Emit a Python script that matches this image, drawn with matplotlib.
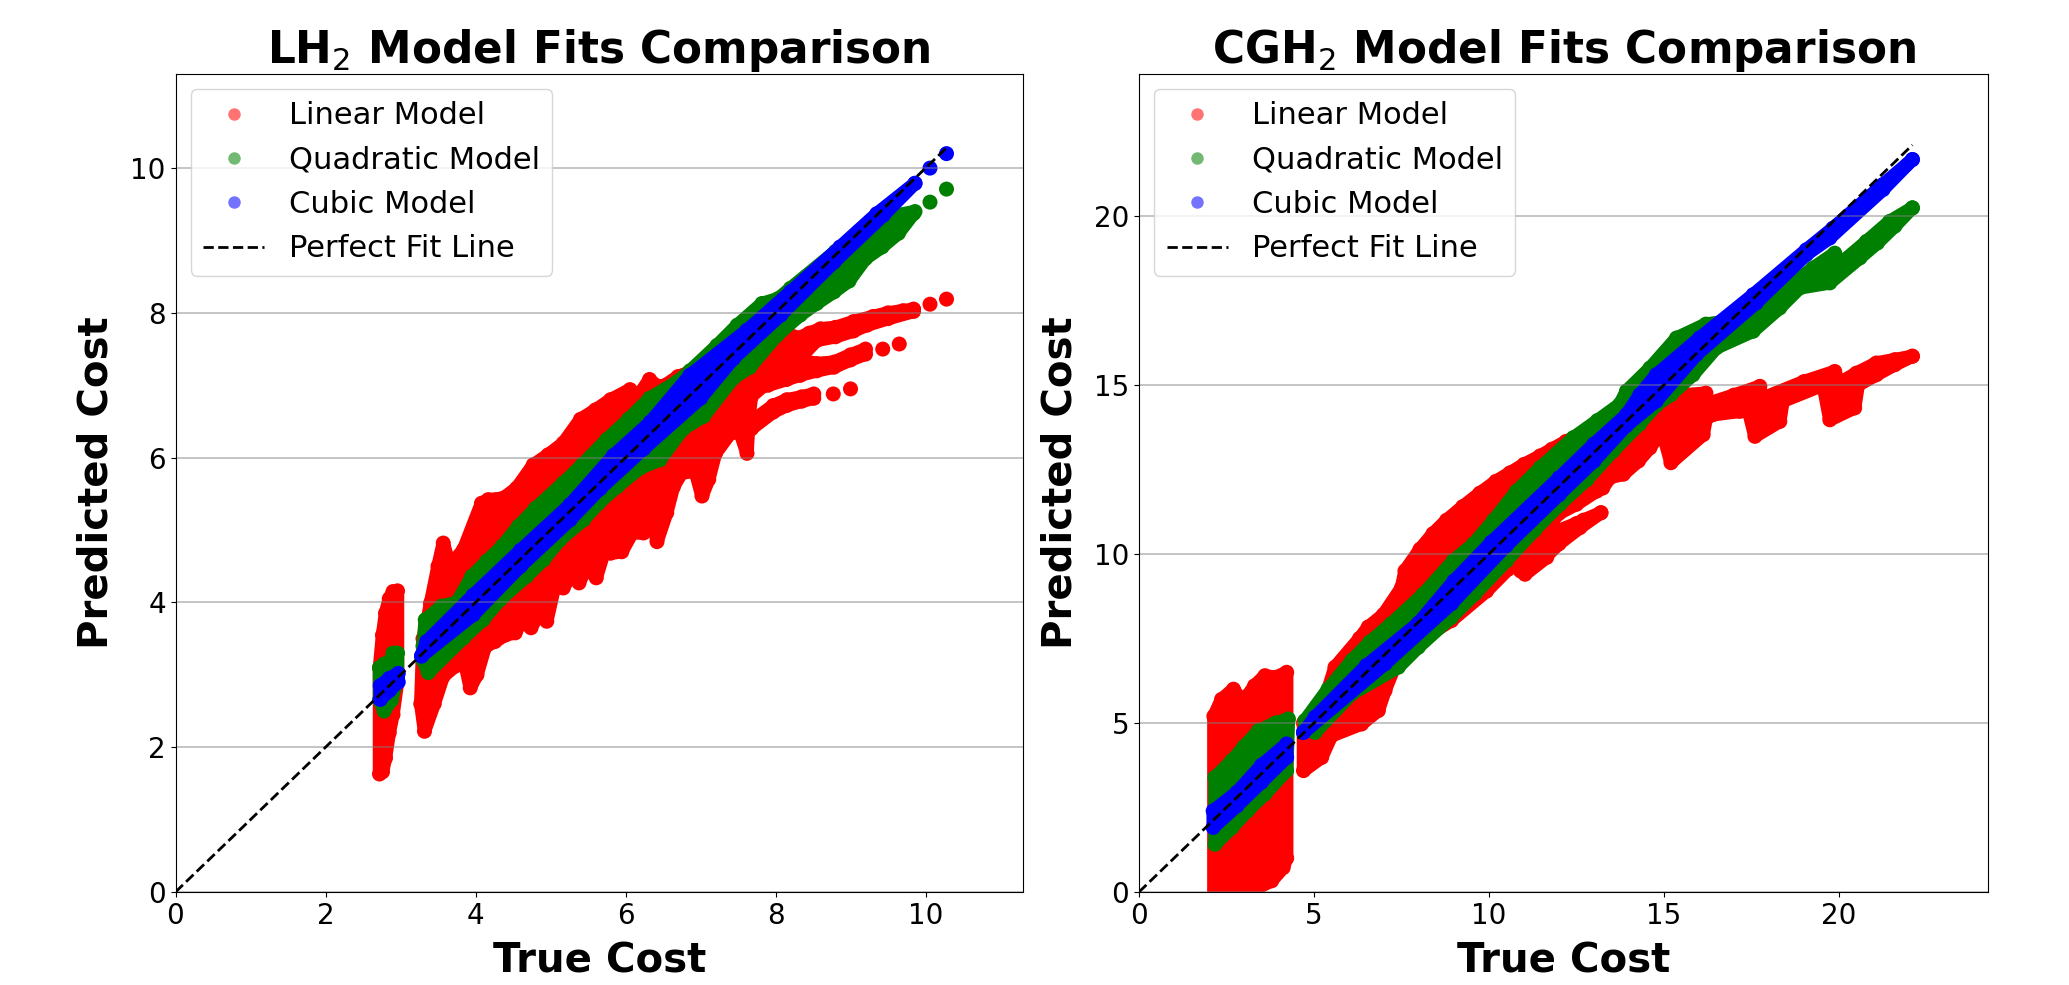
# -*- coding: utf-8 -*-

import numpy as np
import matplotlib
matplotlib.use("Agg")
import matplotlib.pyplot as plt
from matplotlib.lines import Line2D

# ---- LH2 panel : contours des nuages
lh2_red1_top_x = [2.72, 2.76, 2.80, 2.85, 2.90, 2.96]
lh2_red1_top_y = [3.10, 3.55, 3.85, 4.05, 4.15, 4.16]
lh2_red1_low_x = [2.72, 2.76, 2.80, 2.85, 2.90, 2.96]
lh2_red1_low_y = [1.63, 1.66, 1.85, 2.20, 2.45, 2.90]

lh2_red_top_x = [3.30, 3.33, 3.40, 3.50, 3.57, 3.64, 3.71, 3.84, 4.08, 4.17, 4.37, 4.55, 4.77, 4.97, 5.17,
                 5.40, 5.60, 5.80, 6.06, 6.17, 6.32, 6.42, 6.51, 6.70, 6.90, 7.20, 7.50, 7.90, 8.33]
lh2_red_top_y = [3.50, 3.60, 3.99, 4.50, 4.82, 4.57, 4.57, 4.73, 5.37, 5.42, 5.44, 5.58, 5.90, 6.04, 6.20,
                 6.53, 6.66, 6.80, 6.94, 6.85, 7.08, 6.99, 6.99, 7.12, 7.20, 7.40, 7.60, 7.80, 7.65]
lh2_red_low_x = [3.27, 3.32, 3.45, 3.57, 3.73, 3.85, 3.93, 4.02, 4.13, 4.26, 4.40, 4.53, 4.62, 4.74, 4.85,
                 4.95, 5.05, 5.17, 5.29, 5.38, 5.49, 5.61, 5.71, 5.80, 5.95, 6.09, 6.24, 6.33, 6.42, 6.55,
                 6.64, 6.75, 6.93, 7.02, 7.11, 7.20, 7.40, 7.53, 7.62, 7.65, 7.68, 7.85, 8.00, 8.33]
lh2_red_low_y = [2.60, 2.22, 2.60, 2.98, 3.12, 3.20, 2.82, 3.00, 3.39, 3.46, 3.55, 3.58, 3.75, 3.65, 3.85,
                 3.74, 4.20, 4.20, 4.40, 4.27, 4.50, 4.34, 4.68, 4.68, 4.70, 4.96, 4.96, 5.33, 4.84, 5.24,
                 5.60, 5.79, 5.81, 5.47, 5.70, 6.06, 6.34, 6.34, 6.06, 6.60, 6.85, 7.00, 7.10, 7.14]

lh2_branch_top_x = [8.30, 8.45, 8.60, 8.80, 9.04, 9.30, 9.50, 9.70, 9.84]
lh2_branch_top_y = [7.65, 7.72, 7.78, 7.80, 7.88, 7.95, 8.00, 8.03, 8.05]
lh2_branch_low_x = [8.30, 8.55, 8.80, 9.04, 9.22, 9.50, 9.84]
lh2_branch_low_y = [7.35, 7.62, 7.67, 7.75, 7.83, 7.92, 8.02]
lh2_mid_top_x = [7.90, 8.15, 8.33, 8.55, 8.78, 9.00, 9.20]
lh2_mid_top_y = [7.30, 7.33, 7.35, 7.30, 7.32, 7.42, 7.50]
lh2_mid_low_x = [7.90, 8.15, 8.33, 8.55, 8.78, 9.00, 9.20]
lh2_mid_low_y = [7.00, 7.08, 7.14, 7.20, 7.25, 7.35, 7.43]
lh2_low_top_x = [7.68, 7.97, 8.15, 8.35, 8.51]
lh2_low_top_y = [6.50, 6.72, 6.80, 6.84, 6.88]
lh2_low_low_x = [7.68, 7.97, 8.15, 8.35, 8.51]
lh2_low_low_y = [6.40, 6.63, 6.72, 6.78, 6.82]
lh2_red_pts_x = [9.84, 10.06, 10.28, 9.43, 9.65, 8.77, 9.00]
lh2_red_pts_y = [8.05, 8.12, 8.19, 7.50, 7.57, 6.88, 6.95]

lh2_green1_top_x = [2.72, 2.78, 2.85, 2.90, 2.96]
lh2_green1_top_y = [3.10, 3.15, 3.15, 3.30, 3.30]
lh2_green1_low_x = [2.72, 2.78, 2.88, 2.96]
lh2_green1_low_y = [2.65, 2.50, 2.65, 2.95]
lh2_green_top_x = [3.30, 3.33, 3.55, 3.75, 3.95, 4.15, 4.35, 4.57, 4.80, 5.17, 5.42, 5.75, 6.04, 6.32, 6.69, 6.86,
                   7.22, 7.49, 7.82, 8.04, 8.20, 8.80, 9.35, 9.86]
lh2_green_top_y = [3.40, 3.76, 3.95, 4.00, 4.36, 4.57, 4.77, 5.05, 5.30, 5.65, 5.90, 6.25, 6.53, 6.82, 7.05, 7.20,
                   7.55, 7.83, 8.13, 8.20, 8.34, 8.85, 9.30, 9.40]
lh2_green_low_x = [3.30, 3.37, 3.84, 4.10, 4.33, 4.68, 4.91, 5.13, 5.44, 5.64, 5.89, 6.20, 6.46, 6.77, 7.04, 7.44, 7.66,
                   8.02, 8.33, 8.55, 8.78, 8.98, 9.20, 9.42, 9.64, 9.84]
lh2_green_low_y = [3.20, 3.03, 3.51, 3.76, 4.04, 4.36, 4.59, 4.87, 5.14, 5.37, 5.60, 5.86, 5.97, 6.40, 6.57, 7.10, 7.25,
                   7.69, 7.97, 8.13, 8.29, 8.44, 8.75, 8.91, 9.10, 9.37]
lh2_green_pts_x = [10.06, 10.28]
lh2_green_pts_y = [9.53, 9.71]

lh2_blue1_top_x = [2.73, 2.85, 2.97]
lh2_blue1_top_y = [2.85, 2.95, 3.02]
lh2_blue1_low_x = [2.73, 2.85, 2.97]
lh2_blue1_low_y = [2.66, 2.78, 2.90]
lh2_blue_top_x = [3.28, 3.35, 3.97, 4.60, 5.26, 5.84, 6.33, 6.86, 7.62, 8.20, 8.86, 9.35, 9.86]
lh2_blue_top_y = [3.26, 3.46, 4.10, 4.72, 5.35, 6.03, 6.49, 7.14, 7.76, 8.29, 8.91, 9.37, 9.79]
lh2_blue_low_x = [3.28, 3.97, 4.60, 5.26, 5.66, 6.24, 7.00, 7.44, 8.07, 8.78, 9.44, 9.86]
lh2_blue_low_y = [3.26, 3.83, 4.50, 5.14, 5.57, 6.12, 6.82, 7.37, 7.97, 8.70, 9.35, 9.79]
lh2_blue_pts_x = [10.06, 10.28]
lh2_blue_pts_y = [10.00, 10.20]

lh2_line = [0, 10.3]

# ---- CGH2 panel
cgh2_red1_top_x = [2.14, 2.36, 2.70, 2.93, 3.10, 3.30, 3.60, 3.90, 4.22]
cgh2_red1_top_y = [5.20, 5.70, 6.00, 5.66, 5.80, 6.10, 6.40, 6.35, 6.50]
cgh2_red1_low_x = [2.14, 3.00, 3.30, 3.79, 4.12, 4.22]
cgh2_red1_low_y = [-0.50, -0.30, 0.08, 0.33, 0.72, 1.00]

cgh2_red_top_x = [4.70, 5.00, 5.36, 5.60, 6.30, 6.55, 6.98, 7.50, 7.60, 8.03, 8.40, 8.79, 9.25, 9.74, 10.20, 10.60, 11.00,
                  11.46, 11.80, 12.20, 14.00, 14.88, 15.50, 16.20, 16.25, 17.00, 17.74, 17.80, 19.00, 19.88, 20.00, 20.50, 21.07, 21.60, 22.10]
cgh2_red_top_y = [5.00, 5.20, 5.86, 6.65, 7.50, 7.84, 8.20, 9.00, 9.50, 10.14, 10.60, 11.00, 11.40, 11.80, 12.15, 12.40, 12.65,
                  12.90, 13.10, 13.33, 14.20, 14.60, 14.70, 14.76, 14.45, 14.70, 14.96, 14.60, 15.10, 15.40, 15.05, 15.35, 15.65, 15.75, 15.85]
cgh2_red_low_x = [4.70, 5.22, 5.50, 6.36, 6.84, 7.03, 7.30, 8.17, 8.93, 9.93, 10.55, 10.60, 10.78, 10.90, 11.03,
                  11.65, 11.60, 11.75, 12.00, 12.50, 13.08, 13.25, 13.46, 13.84, 14.27, 14.60, 14.79, 15.00,
                  15.20, 16.12, 16.21, 16.40, 17.17, 17.40, 17.60, 18.31, 18.40, 19.55, 19.74, 20.45, 20.55,
                  21.07, 21.60, 22.10]
cgh2_red_low_y = [3.59, 3.98, 4.62, 4.97, 5.37, 5.96, 6.65, 7.54, 8.03, 8.90, 9.55, 9.95, 9.95, 9.50, 9.40,
                  9.90, 10.50, 10.90, 11.20, 11.47, 11.86, 11.95, 12.26, 12.36, 12.75, 13.14, 13.43, 13.45,
                  12.70, 13.53, 14.02, 14.12, 14.22, 14.30, 13.48, 13.92, 14.52, 15.00, 13.97, 14.32, 15.00,
                  15.30, 15.60, 15.85]
cgh2_branch_top_x = [11.65, 12.00, 12.50, 12.70, 13.20]
cgh2_branch_top_y = [10.30, 10.70, 10.90, 11.00, 11.22]
cgh2_branch_low_x = [11.65, 12.00, 12.60, 13.20]
cgh2_branch_low_y = [9.95, 10.30, 10.78, 11.22]

cgh2_green1_top_x = [2.17, 2.65, 3.00, 3.41, 3.90, 4.27]
cgh2_green1_top_y = [3.39, 3.88, 4.30, 4.77, 5.00, 5.12]
cgh2_green1_low_x = [2.17, 2.65, 3.10, 3.60, 4.22]
cgh2_green1_low_y = [1.41, 1.90, 2.40, 2.90, 3.59]
cgh2_green_top_x = [4.74, 5.40, 6.08, 6.60, 7.20, 8.12, 8.98, 9.55, 10.12, 10.79, 11.46, 12.41, 13.10, 13.74, 13.93, 14.60, 15.36,
                    16.20, 17.45, 18.40, 19.26, 19.88, 20.05, 20.79, 21.45, 22.10]
cgh2_green_top_y = [5.07, 6.00, 6.85, 7.40, 7.93, 8.81, 9.80, 10.29, 10.98, 11.86, 12.55, 13.44, 13.95, 14.43, 14.82, 15.50, 16.39,
                    16.80, 16.98, 17.77, 18.46, 18.90, 18.60, 19.25, 19.84, 20.24]
cgh2_green_low_x = [4.74, 5.03, 6.08, 7.41, 7.98, 8.93, 9.60, 10.50, 11.30, 12.03, 12.80, 13.55, 14.30, 14.78, 15.20, 15.83,
                    16.50, 17.55, 18.31, 18.88, 19.74, 20.60, 21.10, 21.60, 22.10]
cgh2_green_low_y = [4.80, 4.72, 5.86, 6.65, 7.24, 8.13, 8.82, 9.80, 10.70, 11.47, 12.20, 13.05, 13.84, 14.40, 14.71, 15.30,
                    16.10, 16.59, 17.28, 17.87, 18.02, 18.76, 19.20, 19.70, 20.24]

cgh2_blue1_top_x = [2.12, 2.80, 3.50, 4.22]
cgh2_blue1_top_y = [2.40, 2.95, 3.75, 4.38]
cgh2_blue1_low_x = [2.12, 2.80, 3.50, 4.22]
cgh2_blue1_low_y = [1.91, 2.55, 3.25, 3.98]
cgh2_blue_top_x = [4.70, 5.03, 6.50, 7.98, 9.00, 10.07, 12.00, 13.00, 13.93, 14.31, 14.78, 16.02, 17.55, 19.07, 19.83, 21.26, 22.10]
cgh2_blue_top_y = [4.72, 5.17, 6.70, 7.95, 9.20, 10.35, 12.25, 13.25, 14.12, 14.71, 15.30, 16.39, 17.67, 19.00, 19.64, 20.93, 21.67]
cgh2_blue_low_x = [4.70, 7.03, 8.93, 10.50, 12.00, 13.00, 13.93, 14.78, 15.93, 17.64, 19.07, 19.74, 21.26, 22.10]
cgh2_blue_low_y = [4.72, 6.75, 8.53, 10.25, 11.75, 12.75, 13.80, 14.52, 15.90, 17.43, 18.86, 19.35, 20.78, 21.67]

cgh2_line = [0, 22.1]

lh2_ticks = [0, 2, 4, 6, 8, 10]
cgh2_ticks = [0, 5, 10, 15, 20]
lh2_lim = 11.3
cgh2_xlim = 24.26
cgh2_ylim = 24.2

titles = ["LH$_2$ Model Fits Comparison", "CGH$_2$ Model Fits Comparison"]
legend_labels = ["Linear Model", "Quadratic Model", "Cubic Model", "Perfect Fit Line"]

MARK = 10.8   # diametre des points en pt


def blob(ax, top_x, top_y, low_x, low_y, color):
    # contour haut + contour bas retourne, avec un point a chaque sommet
    xs = np.r_[top_x, low_x[::-1]]
    ys = np.r_[top_y, low_y[::-1]]
    ax.fill(xs, ys, color=color, lw=MARK*0.9, joinstyle="round", zorder=1)
    ax.scatter(xs, ys, s=MARK**2, color=color, edgecolors="none", zorder=1)


def points(ax, x, y, color):
    ax.scatter(x, y, s=MARK**2, color=color, edgecolors="none", zorder=1)


fig = plt.figure(figsize=(20.69, 9.85), dpi=100)
ax1 = fig.add_axes([175.5/2069, 1-892/985, 847.5/2069, 818/985])
ax2 = fig.add_axes([1139/2069, 1-892/985, 849/2069, 818/985])

# panel gauche
blob(ax1, lh2_red1_top_x, lh2_red1_top_y, lh2_red1_low_x, lh2_red1_low_y, "red")
blob(ax1, lh2_red_top_x, lh2_red_top_y, lh2_red_low_x, lh2_red_low_y, "red")
blob(ax1, lh2_branch_top_x, lh2_branch_top_y, lh2_branch_low_x, lh2_branch_low_y, "red")
blob(ax1, lh2_mid_top_x, lh2_mid_top_y, lh2_mid_low_x, lh2_mid_low_y, "red")
blob(ax1, lh2_low_top_x, lh2_low_top_y, lh2_low_low_x, lh2_low_low_y, "red")
points(ax1, lh2_red_pts_x, lh2_red_pts_y, "red")
blob(ax1, lh2_green1_top_x, lh2_green1_top_y, lh2_green1_low_x, lh2_green1_low_y, "green")
blob(ax1, lh2_green_top_x, lh2_green_top_y, lh2_green_low_x, lh2_green_low_y, "green")
points(ax1, lh2_green_pts_x, lh2_green_pts_y, "green")
blob(ax1, lh2_blue1_top_x, lh2_blue1_top_y, lh2_blue1_low_x, lh2_blue1_low_y, "blue")
blob(ax1, lh2_blue_top_x, lh2_blue_top_y, lh2_blue_low_x, lh2_blue_low_y, "blue")
points(ax1, lh2_blue_pts_x, lh2_blue_pts_y, "blue")
ax1.plot(lh2_line, lh2_line, "k--", lw=2, zorder=2)

# panel droit
blob(ax2, cgh2_red1_top_x, cgh2_red1_top_y, cgh2_red1_low_x, cgh2_red1_low_y, "red")
blob(ax2, cgh2_red_top_x, cgh2_red_top_y, cgh2_red_low_x, cgh2_red_low_y, "red")
blob(ax2, cgh2_branch_top_x, cgh2_branch_top_y, cgh2_branch_low_x, cgh2_branch_low_y, "red")
blob(ax2, cgh2_green1_top_x, cgh2_green1_top_y, cgh2_green1_low_x, cgh2_green1_low_y, "green")
blob(ax2, cgh2_green_top_x, cgh2_green_top_y, cgh2_green_low_x, cgh2_green_low_y, "green")
blob(ax2, cgh2_blue1_top_x, cgh2_blue1_top_y, cgh2_blue1_low_x, cgh2_blue1_low_y, "blue")
blob(ax2, cgh2_blue_top_x, cgh2_blue_top_y, cgh2_blue_low_x, cgh2_blue_low_y, "blue")
ax2.plot(cgh2_line, cgh2_line, "k--", lw=2, zorder=2)

ax1.set_xlim(0, lh2_lim)
ax1.set_ylim(0, lh2_lim)
ax1.set_xticks(lh2_ticks)
ax1.set_yticks(lh2_ticks)
ax2.set_xlim(0, cgh2_xlim)
ax2.set_ylim(0, cgh2_ylim)
ax2.set_xticks(cgh2_ticks)
ax2.set_yticks(cgh2_ticks)

handles = [Line2D([], [], ls="", marker="o", ms=9, mec="none", color=c, alpha=0.55) for c in ["red", "green", "blue"]]
handles.append(Line2D([], [], ls="--", color="k", lw=2))

for ax, title in zip([ax1, ax2], titles):
    ax.set_title(title, fontsize=31.5, fontweight="bold", pad=8)
    ax.set_xlabel("True Cost", fontsize=29, fontweight="bold", labelpad=8.5)
    ax.set_ylabel("Predicted Cost", fontsize=29, fontweight="bold", labelpad=10)
    ax.tick_params(labelsize=20)
    ax.grid(axis="y", color="gray", alpha=0.5, lw=1.3)
    ax.legend(handles, legend_labels, fontsize=22, loc="upper left", handlelength=2)

fig.savefig("out.png", dpi=100)
